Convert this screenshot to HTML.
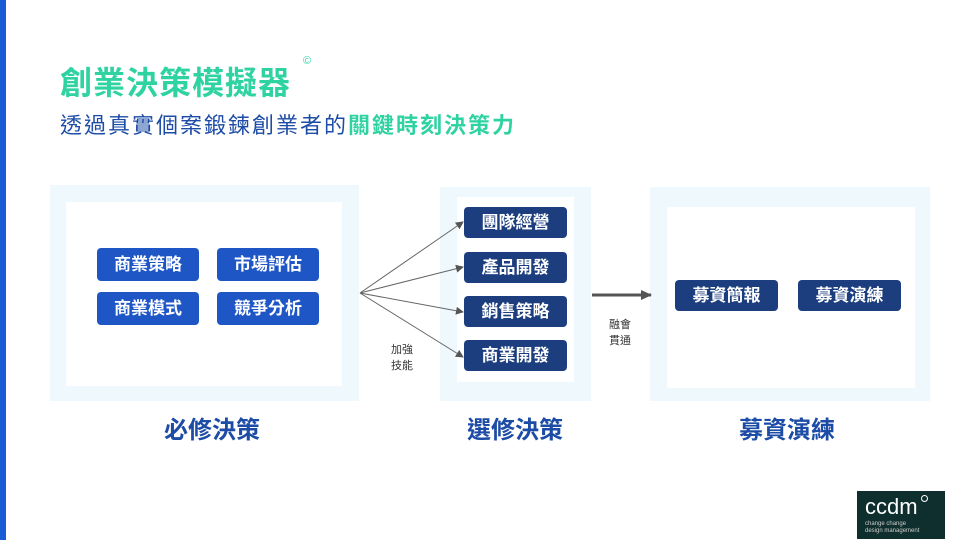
<!DOCTYPE html>
<html><head><meta charset="utf-8"><style>
body{margin:0;width:960px;height:540px;background:#fff;position:relative;overflow:hidden;font-family:"Liberation Sans","Noto Sans CJK TC",sans-serif}
div{position:absolute;box-sizing:border-box}
.o{background:#eef8fd}.i{background:#fff}
.b{background:#1f56c6;color:#fff;border-radius:4px;font-size:17px;font-weight:bold;text-align:center;width:102px;height:33px;line-height:33px}
.n{background:#1c3e7e;color:#fff;border-radius:4px;font-size:17px;font-weight:bold;text-align:center;width:103px;height:31px;line-height:31px}
.l{color:#1d4ca6;font-size:24px;font-weight:bold;text-align:center;width:200px;top:410px}
.s{font-size:11px;color:#333;line-height:16px;text-align:center}
</style></head><body>
<div style="left:0;top:0;width:6px;height:540px;background:#1a5bd6"></div>
<div style="left:60px;top:58px;font-size:32px;font-weight:bold;color:#2fd3a2;letter-spacing:1px">創業決策模擬器</div>
<div style="left:303px;top:55px;font-size:11px;color:#2fd3a2">©</div>
<div style="left:60px;top:108px;font-size:22px;color:#1d4ca6;letter-spacing:2px">透過真實個案鍛鍊創業者的<span style="color:#2fd3a2;font-weight:bold">關鍵時刻決策力</span></div>
<div class="o" style="left:50px;top:185px;width:309px;height:216px"></div>
<div class="i" style="left:66px;top:202px;width:276px;height:184px"></div>
<div class="b" style="left:97px;top:248px">商業策略</div>
<div class="b" style="left:217px;top:248px">市場評估</div>
<div class="b" style="left:97px;top:292px">商業模式</div>
<div class="b" style="left:217px;top:292px">競爭分析</div>
<div class="o" style="left:440px;top:187px;width:151px;height:214px"></div>
<div class="i" style="left:457px;top:197px;width:117px;height:185px"></div>
<div class="n" style="left:464px;top:207px">團隊經營</div>
<div class="n" style="left:464px;top:252px">產品開發</div>
<div class="n" style="left:464px;top:296px">銷售策略</div>
<div class="n" style="left:464px;top:340px">商業開發</div>
<div class="o" style="left:650px;top:187px;width:280px;height:214px"></div>
<div class="i" style="left:667px;top:207px;width:248px;height:181px"></div>
<div class="n" style="left:675px;top:280px">募資簡報</div>
<div class="n" style="left:798px;top:280px">募資演練</div>
<svg style="position:absolute;left:0;top:0" width="960" height="540">
<defs><marker id="a" markerWidth="8" markerHeight="8" refX="7" refY="4" orient="auto" markerUnits="userSpaceOnUse"><path d="M0,0L8,4L0,8z" fill="#555"/></marker>
<marker id="c" markerWidth="12" markerHeight="12" refX="10" refY="6" orient="auto" markerUnits="userSpaceOnUse"><path d="M0,1L11,6L0,11z" fill="#555"/></marker></defs>
<g stroke="#666" stroke-width="1" marker-end="url(#a)">
<line x1="360" y1="293" x2="463" y2="222"/><line x1="360" y1="293" x2="463" y2="267"/>
<line x1="360" y1="293" x2="463" y2="312"/><line x1="360" y1="293" x2="463" y2="357"/></g>
<line x1="592" y1="295" x2="651" y2="295" stroke="#555" stroke-width="3" marker-end="url(#c)"/>
</svg>
<div class="s" style="left:382px;top:342px;width:40px">加強<br>技能</div>
<div class="s" style="left:600px;top:317px;width:40px">融會<br>貫通</div>
<div class="l" style="left:112px">必修決策</div>
<div class="l" style="left:415px">選修決策</div>
<div class="l" style="left:687px">募資演練</div>
<div style="left:857px;top:491px;width:88px;height:48px;background:#0f2f2e;color:#fff">
<div style="left:8px;top:3px;font-size:22px">ccdm</div>
<div style="left:64px;top:4px;width:7px;height:7px;border:1px solid #fff;border-radius:50%"></div>
<div style="left:8px;top:30px;font-size:6px;line-height:7px;color:#ccc;white-space:nowrap">change change<br>design management</div>
</div>
</body></html>
